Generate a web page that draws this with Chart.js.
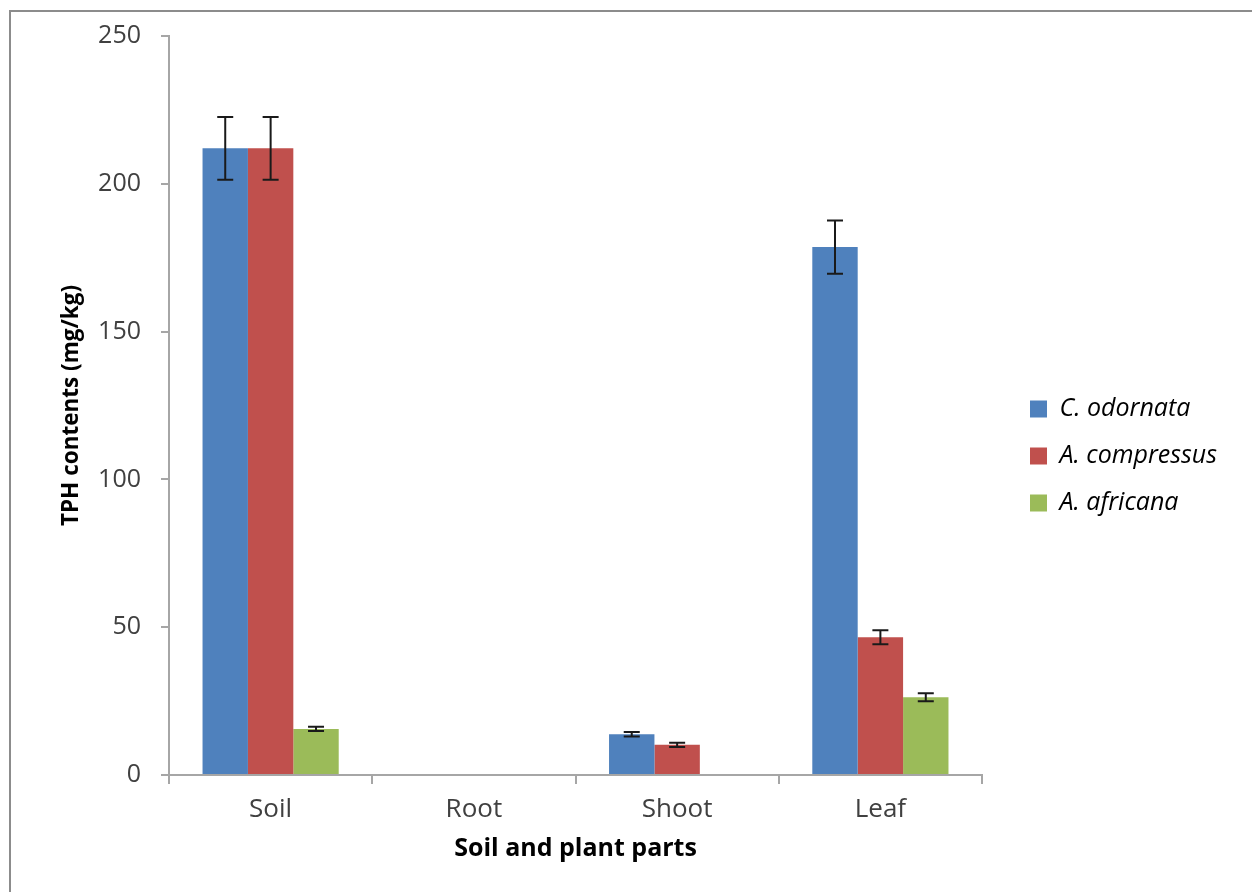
<!DOCTYPE html>
<html>
<head>
<meta charset="utf-8">
<script src="https://cdn.jsdelivr.net/npm/chart.js@4"></script>
<style>
  body { margin: 0; background: #fff; }
  #wrap { position: relative; width: 1252px; height: 892px; overflow: hidden; }
  #frame { position: absolute; left: 9px; top: 10px; width: 1270px; height: 900px; border: 2px solid #8c8c8c; pointer-events: none; }
</style>
</head>
<body>
<div id="wrap">
  <canvas id="myChart" width="1252" height="892"></canvas>
  <div id="frame"></div>
</div>
<script>
// Datos del gráfico
const parts = ['Soil', 'Root', 'Shoot', 'Leaf'];
const seriesNames = ['C. odornata', 'A. compressus', 'A. africana'];

const odornata = [212, null, 13.8, 178.6];
const odornataErr = [10.6, null, 0.75, 9.0];

const compressus = [212, null, 10.2, 46.6];
const compressusErr = [10.6, null, 0.7, 2.4];

const africana = [15.6, null, null, 26.3];
const africanaErr = [0.7, null, null, 1.35];

const yTicks = [0, 50, 100, 150, 200, 250];

const colors = ['#4F81BD', '#C0504D', '#9BBB59'];

// Barras de error (Chart.js no las trae)
const errorBars = {
  id: 'errorBars',
  afterDatasetsDraw(chart) {
    const ctx = chart.ctx;
    const yScale = chart.scales.y;
    ctx.save();
    ctx.strokeStyle = '#1a1a1a';
    ctx.lineWidth = 2;
    chart.data.datasets.forEach((ds, i) => {
      const meta = chart.getDatasetMeta(i);
      meta.data.forEach((bar, j) => {
        const v = ds.data[j];
        const e = ds.errors[j];
        if (v == null || e == null) return;
        const x = bar.x;
        const yTop = yScale.getPixelForValue(v + e);
        const yBot = yScale.getPixelForValue(v - e);
        const cap = 8;
        ctx.beginPath();
        ctx.moveTo(x, yTop); ctx.lineTo(x, yBot);
        ctx.moveTo(x - cap, yTop); ctx.lineTo(x + cap, yTop);
        ctx.moveTo(x - cap, yBot); ctx.lineTo(x + cap, yBot);
        ctx.stroke();
      });
    });
    ctx.restore();
  }
};

// separa la leyenda del área del gráfico
const legendGap = {
  id: 'legendGap',
  afterLayout(chart) {
    const lg = chart.legend;
    if (!lg) return;
    lg.left += 26;
    lg.right += 26;
  }
};

const axisGray = '#a6a6a6';

function drawChart() {
  const ctx = document.getElementById('myChart');
  new Chart(ctx, {
    type: 'bar',
    data: {
      labels: parts,
      datasets: [
        { label: seriesNames[0], data: odornata, errors: odornataErr, backgroundColor: colors[0] },
        { label: seriesNames[1], data: compressus, errors: compressusErr, backgroundColor: colors[1] },
        { label: seriesNames[2], data: africana, errors: africanaErr, backgroundColor: colors[2] }
      ]
    },
    options: {
      responsive: false,
      animation: false,
      datasets: { bar: { categoryPercentage: 0.67, barPercentage: 1.0 } },
      layout: { padding: { top: 36, right: 51, bottom: 16, left: 0 } },
      plugins: {
        tooltip: { enabled: false },
        legend: {
          position: 'right',
          fullSize: true,
          labels: {
            boxWidth: 17,
            boxHeight: 17,
            padding: 22,
            color: '#000',
            font: { family: 'Open Sans', size: 25, style: 'italic' }
          }
        }
      },
      scales: {
        x: {
          grid: { drawOnChartArea: false, offset: true, tickLength: 9, color: axisGray, lineWidth: 2 },
          border: { color: axisGray, width: 2 },
          ticks: { color: '#404040', padding: 10, font: { family: 'Open Sans', size: 26 } },
          title: {
            display: true,
            text: 'Soil and plant parts',
            color: '#000',
            font: { family: 'Open Sans', size: 25, weight: 'bold' },
            padding: { top: 0, bottom: 12 }
          },
          afterFit: s => { s.height = 101; }
        },
        y: {
          min: 0,
          max: 250,
          afterBuildTicks: s => { s.ticks = yTicks.map(v => ({ value: v })); },
          grid: { drawOnChartArea: false, tickLength: 8, color: axisGray, lineWidth: 2 },
          border: { color: axisGray, width: 2 },
          ticks: { color: '#404040', padding: 20, font: { family: 'Open Sans', size: 25 } },
          title: {
            display: true,
            text: 'TPH contents (mg/kg)',
            color: '#000',
            font: { family: 'Open Sans', size: 22.5, weight: 'bold' },
            padding: { top: 58, bottom: 0 }
          },
          afterFit: s => { s.width = 169; }
        }
      }
    },
    plugins: [errorBars, legendGap]
  });
}

// cargar las fuentes antes de medir los textos
Promise.all([
  document.fonts.load('italic 25px "Open Sans"'),
  document.fonts.load('bold 25px "Open Sans"'),
  document.fonts.load('25px "Open Sans"')
]).then(drawChart, drawChart);
</script>
</body>
</html>
